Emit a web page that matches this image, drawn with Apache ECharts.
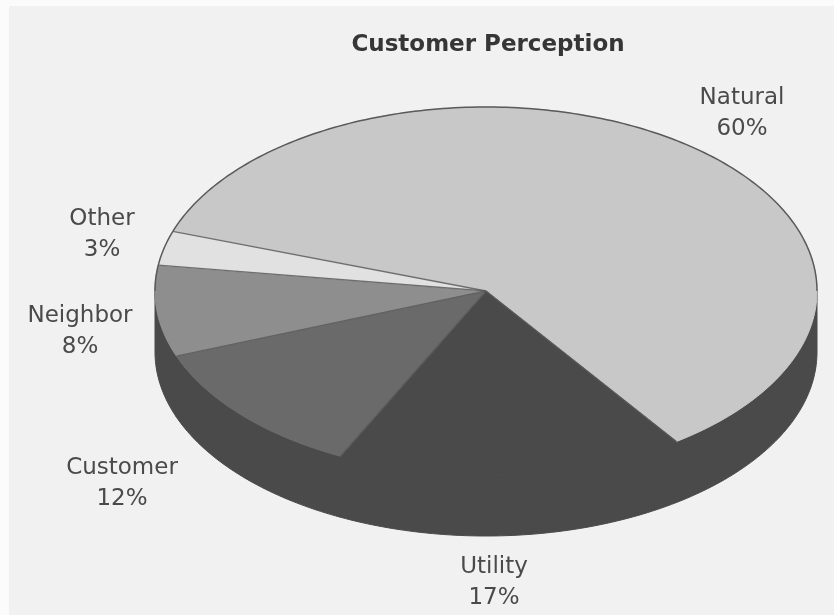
<!doctype html>
<html>
<head>
  <meta charset="utf-8">
  <script src="https://cdn.jsdelivr.net/npm/echarts@6/dist/echarts.min.js"></script>
  <style>
    html, body { margin: 0; width: 100%; height: 100%; background: #f1f1f1; }
    #main { width: 834px; height: 615px; }
  </style>
</head>
<body>
  <div id="main"></div>
  <script>
    // data
    var names = ['Natural', 'Utility', 'Customer', 'Neighbor', 'Other'];
    var values = [60, 17, 12, 8, 3];
    var topColors = ['#c8c8c8', '#4a4a4a', '#6a6a6a', '#8e8e8e', '#e1e1e1'];
    var titleText = 'Customer Perception';

    // layout of the tilted pie
    var cx = 486, cy = 291, rx = 331, ry = 184, depth = 61;
    var startAngle = 198.9; // screen degrees, clockwise from 3 o'clock
    var sideColor = '#4a4a4a';
    var edgeColor = '#5a5a5a';
    // label anchors (centre of the two-line label)
    var labelAt = [[742, 114], [494, 583], [122, 484], [80, 332], [102, 235]];

    var total = values.reduce(function (a, b) { return a + b; }, 0);

    function pt(a, dy) {
      var r = a * Math.PI / 180;
      return [cx + rx * Math.cos(r), cy + (dy || 0) + ry * Math.sin(r)];
    }

    function arc(a0, a1, dy) {
      var out = [];
      var n = Math.max(2, Math.ceil(Math.abs(a1 - a0)));
      for (var k = 0; k <= n; k++) {
        out.push(pt(a0 + (a1 - a0) * k / n, dy));
      }
      return out;
    }

    // pieces of [a0, a1] that fall in [from, to] (mod 360)
    function clip(a0, a1, from, to) {
      var res = [];
      for (var base = -360; base <= 720; base += 360) {
        var s = Math.max(a0, base + from), e = Math.min(a1, base + to);
        if (e > s) res.push([s, e]);
      }
      return res;
    }

    function renderItem(params, api) {
      var i = params.dataIndex;
      var before = 0;
      for (var k = 0; k < i; k++) before += values[k];
      var a0 = startAngle + before / total * 360;
      var a1 = a0 + api.value(0) / total * 360;
      var children = [];

      // front wall: the part of the rim that faces the viewer
      clip(a0, a1, 0, 180).forEach(function (p) {
        children.push({
          type: 'polygon',
          z2: 0,
          shape: { points: arc(p[0], p[1], 0).concat(arc(p[1], p[0], depth)) },
          style: { fill: sideColor, stroke: sideColor, lineWidth: 1 }
        });
      });

      // top face
      children.push({
        type: 'polygon',
        z2: 1,
        shape: { points: [[cx, cy]].concat(arc(a0, a1, 0)) },
        style: { fill: topColors[i], stroke: topColors[i], lineWidth: 1 }
      });

      // outline on the back rim
      clip(a0, a1, 180, 360).forEach(function (p) {
        children.push({
          type: 'polyline',
          z2: 5,
          shape: { points: arc(p[0], p[1], 0) },
          style: { fill: null, stroke: edgeColor, lineWidth: 1.5 }
        });
      });

      // radial edge at the start of the slice
      var p0 = pt(a0, 0);
      children.push({
        type: 'line',
        z2: 5,
        shape: { x1: cx, y1: cy, x2: p0[0], y2: p0[1] },
        style: { stroke: edgeColor, lineWidth: 1.3, opacity: 0.85 }
      });
      return { type: 'group', children: children };
    }

    var labels = names.map(function (n, i) {
      return {
        type: 'text',
        x: labelAt[i][0],
        y: labelAt[i][1],
        style: {
          text: n + '\n' + values[i] + '%',
          fill: '#4a4a4a',
          font: '23px "DejaVu Sans"',
          lineHeight: 31,
          align: 'center',
          verticalAlign: 'middle'
        }
      };
    });

    var chart = echarts.init(document.getElementById('main'));
    chart.setOption({
      backgroundColor: '#f1f1f1',
      animation: false,
      title: {
        text: titleText,
        left: 483,
        top: 29,
        textAlign: 'center',
        textStyle: { fontFamily: 'DejaVu Sans', fontWeight: 'bold', fontSize: 23, color: '#363636' }
      },
      graphic: [
        { type: 'rect', shape: { x: 0, y: 0, width: 834, height: 6 }, style: { fill: '#fbfbfb' }, z: -1 },
        { type: 'rect', shape: { x: 0, y: 0, width: 9, height: 615 }, style: { fill: '#fbfbfb' }, z: -1 }
      ].concat(labels),
      series: [{
        type: 'custom',
        coordinateSystem: 'none',
        renderItem: renderItem,
        data: values.map(function (v, i) { return { name: names[i], value: [v] }; })
      }]
    });
  </script>
</body>
</html>
